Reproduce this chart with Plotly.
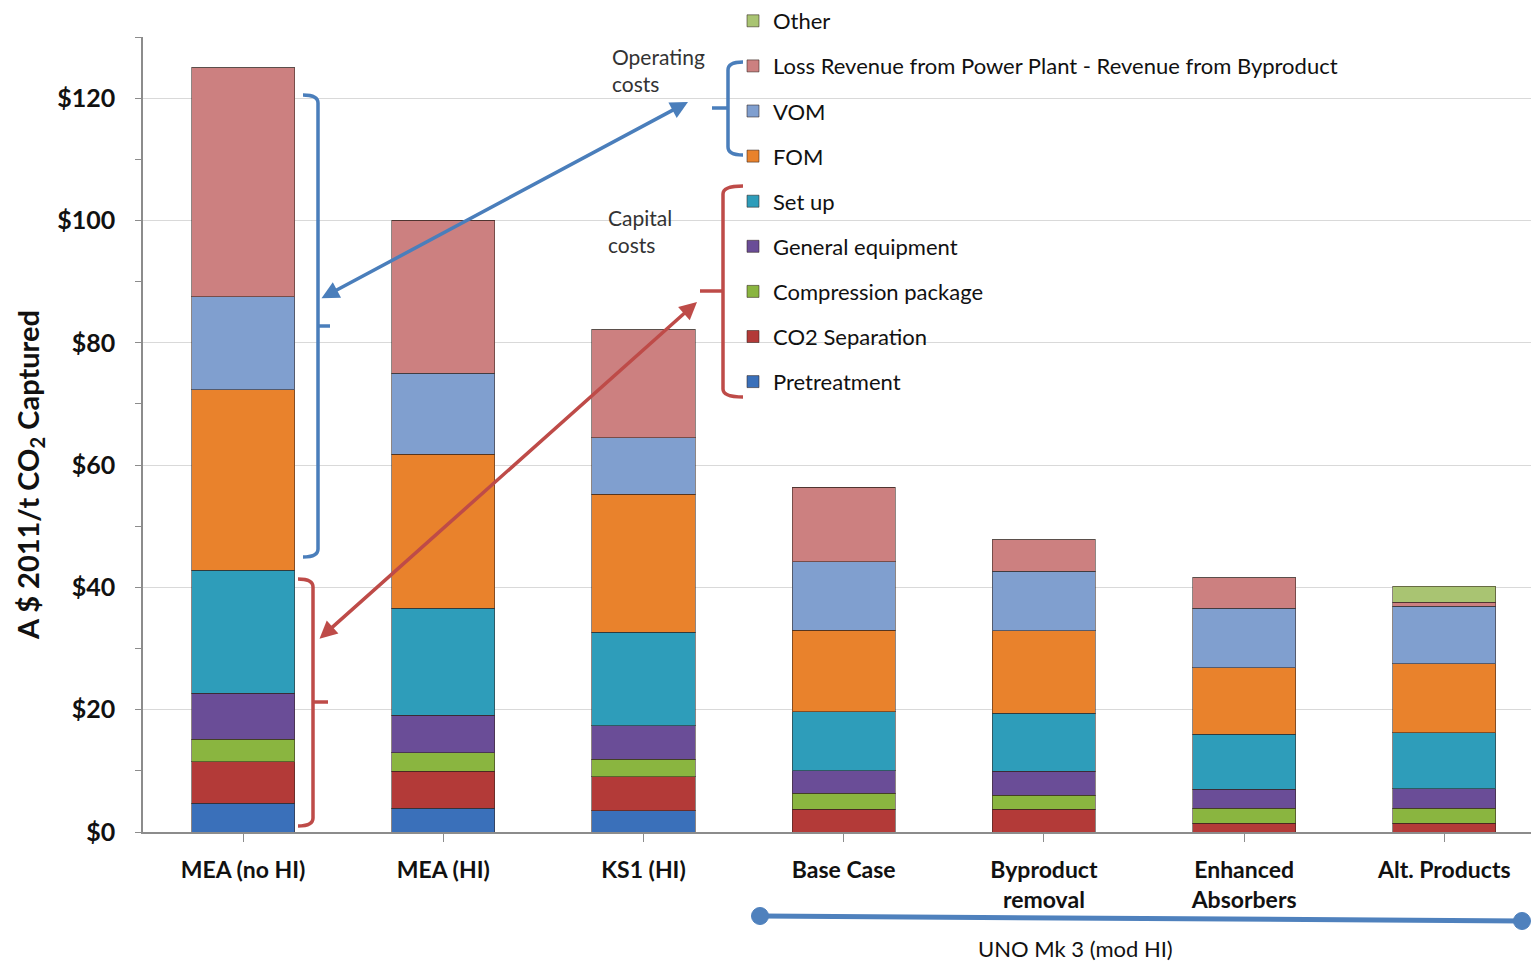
import plotly.graph_objects as go

categories = ["MEA (no HI)", "MEA (HI)", "KS1 (HI)", "Base Case", "Byproduct<br>removal",
              "Enhanced<br>Absorbers", "Alt. Products"]

pretreatment = [4.7, 3.9, 3.5, 0.0, 0.0, 0.0, 0.0]
co2_separation = [6.8, 6.0, 5.5, 3.7, 3.7, 1.4, 1.4]
compression = [3.7, 3.1, 2.9, 2.6, 2.3, 2.5, 2.5]
general_equipment = [7.5, 6.1, 5.5, 3.7, 3.9, 3.1, 3.2]
set_up = [20.1, 17.5, 15.3, 9.7, 9.5, 9.0, 9.1]
fom = [29.5, 25.2, 22.5, 13.3, 13.5, 10.9, 11.3]
vom = [15.2, 13.2, 9.3, 11.2, 9.7, 9.7, 9.4]
loss_revenue = [37.5, 25.0, 17.6, 12.2, 5.2, 5.0, 0.7]
other = [0.0, 0.0, 0.0, 0.0, 0.0, 0.0, 2.6]

ytick_vals = [0, 20, 40, 60, 80, 100, 120]
ytick_text = ["$0", "$20", "$40", "$60", "$80", "$100", "$120"]

series = [
    ("Pretreatment", pretreatment, "#3A70BA"),
    ("CO2 Separation", co2_separation, "#B33A38"),
    ("Compression package", compression, "#8AB540"),
    ("General equipment", general_equipment, "#6A4D97"),
    ("Set up", set_up, "#2E9DBA"),
    ("FOM", fom, "#E9822C"),
    ("VOM", vom, "#809FCF"),
    ("Loss Revenue from Power Plant - Revenue from Byproduct", loss_revenue, "#CC8080"),
    ("Other", other, "#A9C472"),
]

W, H = 1531, 962
L, R, T, B = 143, 0, 37, 130
PW, PH = W - L - R, H - T - B


def px(xp):
    return (xp - L) / PW


def py(yp):
    return (H - B - yp) / PH


fig = go.Figure()
n = len(series)
for i, (name, vals, col) in enumerate(series):
    fig.add_trace(go.Bar(
        x=list(range(len(categories))), y=vals, name=name,
        marker=dict(color=col, line=dict(color="rgba(50,35,30,0.55)", width=1)),
        width=0.515, legendgroup=f"g{i}", legendrank=(n - i) * 10,
    ))

FONT = "Lato, Open Sans, sans-serif"
shapes = []
blue = "#4A7EBB"
red = "#BE4B48"


def bracket(x, y0, y1, hook_x, nub_x, nub_y, color, width=3.5):
    path = (f"M {px(hook_x)},{py(y0)} Q {px(x)},{py(y0)} {px(x)},{py(y0 + 8)} "
            f"L {px(x)},{py(y1 - 8)} Q {px(x)},{py(y1)} {px(hook_x)},{py(y1)}")
    shapes.append(dict(type="path", xref="paper", yref="paper", path=path,
                       line=dict(color=color, width=width)))
    shapes.append(dict(type="line", xref="paper", yref="paper",
                       x0=px(x), x1=px(nub_x), y0=py(nub_y), y1=py(nub_y),
                       line=dict(color=color, width=width)))


bracket(318, 95, 557, 303, 330, 326, blue)
bracket(313, 579, 826, 298, 328, 702, red)
bracket(728, 62, 155, 743, 712, 108, blue)
bracket(723, 186, 397, 743, 700, 291, red)

# timeline
shapes.append(dict(type="line", xref="paper", yref="paper", x0=px(760), x1=px(1522),
                   y0=py(916), y1=py(921), line=dict(color="#4F81BD", width=5)))
for cx, cy in [(760, 916), (1522, 921)]:
    r = 8.5
    shapes.append(dict(type="circle", xref="paper", yref="paper",
                       x0=px(cx - r), x1=px(cx + r), y0=py(cy + r), y1=py(cy - r),
                       fillcolor="#4F81BD", line=dict(color="#4F81BD", width=1)))


def arrow(hx, hy, tx, ty, color):
    return dict(text="", x=px(hx), y=py(hy), xref="paper", yref="paper",
                ax=tx - hx, ay=ty - hy, axref="pixel", ayref="pixel",
                showarrow=True, arrowhead=2, arrowsize=1, arrowwidth=3.5,
                arrowcolor=color, arrowside="end+start", standoff=0, startstandoff=0)


annotations = [
    dict(text="A $ 2011/t CO<sub>2</sub> Captured", x=px(29), y=py(475), xref="paper", yref="paper",
         xanchor="center", yanchor="middle", textangle=-90, showarrow=False,
         font=dict(family=FONT, size=29, color="#111111", weight="bold")),
    dict(text="Operating<br>costs", x=px(610), y=py(70), xref="paper", yref="paper",
         xanchor="left", yanchor="middle", align="left", showarrow=False,
         font=dict(family=FONT, size=21, color="#333333")),
    dict(text="Capital<br>costs", x=px(606), y=py(231), xref="paper", yref="paper",
         xanchor="left", yanchor="middle", align="left", showarrow=False,
         font=dict(family=FONT, size=21, color="#333333")),
    dict(text="UNO Mk 3 (mod HI)", x=px(1075), y=py(948), xref="paper", yref="paper",
         xanchor="center", yanchor="middle", showarrow=False,
         font=dict(family=FONT, size=22, color="#111111")),
    arrow(688, 102, 320, 299, blue),
    arrow(697, 302, 318, 640, red),
]

fig.update_layout(
    width=W, height=H, barmode="stack", bargap=0.485,
    plot_bgcolor="white", paper_bgcolor="white",
    margin=dict(l=L, r=R, t=T, b=B, autoexpand=False),
    font=dict(family=FONT, color="#111111"),
    shapes=shapes, annotations=annotations,
    legend=dict(x=px(733), y=py(0), xanchor="left", yanchor="top",
                traceorder="grouped", tracegroupgap=13.5,
                font=dict(family=FONT, size=22, color="#111111"),
                bgcolor="rgba(0,0,0,0)"),
    xaxis=dict(range=[-0.5, -0.5 + PW / 200.2], tickmode="array",
               tickvals=list(range(len(categories))), ticktext=categories,
               tickson="boundaries", ticks="outside", ticklen=8, tickcolor="#8C8C8C",
               showline=True, linecolor="#8C8C8C", linewidth=1.5, showgrid=False,
               tickfont=dict(family=FONT, size=23, color="#111111", weight="bold"),
               ticklabelstandoff=9),
    yaxis=dict(range=[0, 130], tickmode="array", tickvals=ytick_vals, ticktext=ytick_text,
               ticks="outside", ticklen=6, tickcolor="#8C8C8C",
               minor=dict(dtick=10, ticks="outside", ticklen=6, tickcolor="#8C8C8C", showgrid=False),
               showline=True, linecolor="#8C8C8C", linewidth=1.5,
               showgrid=True, gridcolor="#D9D9D9", gridwidth=1,
               tickfont=dict(family=FONT, size=25, color="#111111", weight="bold"),
               ticklabelstandoff=15),
)

fig.write_html("out.html")
